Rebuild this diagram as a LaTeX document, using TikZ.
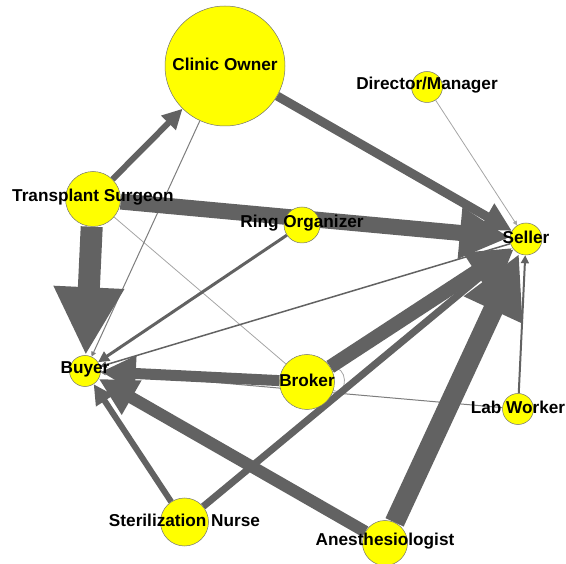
\documentclass[tikz,border=0pt]{standalone}
\usepackage{fontspec}
\setmainfont{Liberation Sans}
\usetikzlibrary{arrows.meta,backgrounds}
\definecolor{eg}{RGB}{98,98,98}
\definecolor{lg}{RGB}{165,165,165}
\definecolor{mg}{RGB}{125,125,125}
\definecolor{ny}{RGB}{255,255,0}
\begin{document}
\begin{tikzpicture}[x=1pt,y=-1pt,
  v/.style={circle, fill=ny, draw=black!55, line width=0.5pt, inner sep=0pt},
  lbl/.style={font=\bfseries\fontsize{17.2}{20}\selectfont, text=black, inner sep=0pt, yshift=1.5pt},
  e/.style={draw=eg, -{Triangle[length=2pt 3, width=2pt 2.9]}},
  pl/.style={draw=lg, line width=0.8pt},
]
\useasboundingbox (0,0) rectangle (566,564);
\node[v, minimum size=120pt, label={[lbl]center:Clinic Owner}] (CO) at (225,66) {};
\node[v, minimum size=31pt, label={[lbl]center:Director/Manager}] (DM) at (427,87) {};
\node[v, minimum size=55pt, label={[lbl]center:Transplant Surgeon}] (TS) at (93,199) {};
\node[v, minimum size=36pt, label={[lbl]center:Ring Organizer}] (RO) at (302,225) {};
\node[v, minimum size=32pt, label={[lbl]center:Seller}] (SE) at (526,239) {};
\node[v, minimum size=31pt, label={[lbl]center:Buyer}] (BU) at (85,371) {};
\node[v, minimum size=55pt, label={[lbl]center:Broker}] (BR) at (307,382) {};
\node[v, minimum size=31pt, label={[lbl]center:Lab Worker}] (LW) at (518,409) {};
\node[v, minimum size=48pt, label={[lbl]center:Sterilization Nurse}] (SN) at (184.5,522) {};
\node[v, minimum size=45pt, label={[lbl]center:Anesthesiologist}] (AN) at (385,543) {};
\begin{scope}[on background layer]
\draw[pl] (TS) -- (BR);
\draw[pl] (BR.28) .. controls +(16,-6) and +(16,6) .. (BR.-18);
\draw[e, draw=lg, line width=0.8pt] (DM) -- (SE);
\draw[e, draw=mg, line width=1pt] (CO) -- (BU);
\draw[e, draw=mg, line width=1pt] (LW) -- (BU);
\draw[e, line width=1.5pt] (SE) -- (BU);
\draw[e, line width=2pt] (LW) -- (SE);
\draw[e, line width=3pt] (RO) -- (BU);
\draw[e, line width=6pt] (TS) -- (CO);
\draw[e, line width=6pt] (SN) -- (BU);
\draw[e, line width=7pt] (SN) -- (SE);
\draw[e, line width=9pt] (CO) -- (SE);
\draw[e, line width=11pt] (BR) -- (BU);
\draw[e, line width=12pt] (AN) -- (BU);
\draw[e, line width=14pt] (BR) -- (SE);
\draw[e, line width=16pt] (TS) -- (SE);
\draw[e, line width=20pt] (AN) -- (SE);
\draw[e, line width=22pt] (TS) -- (BU);
\end{scope}
\end{tikzpicture}
\end{document}
